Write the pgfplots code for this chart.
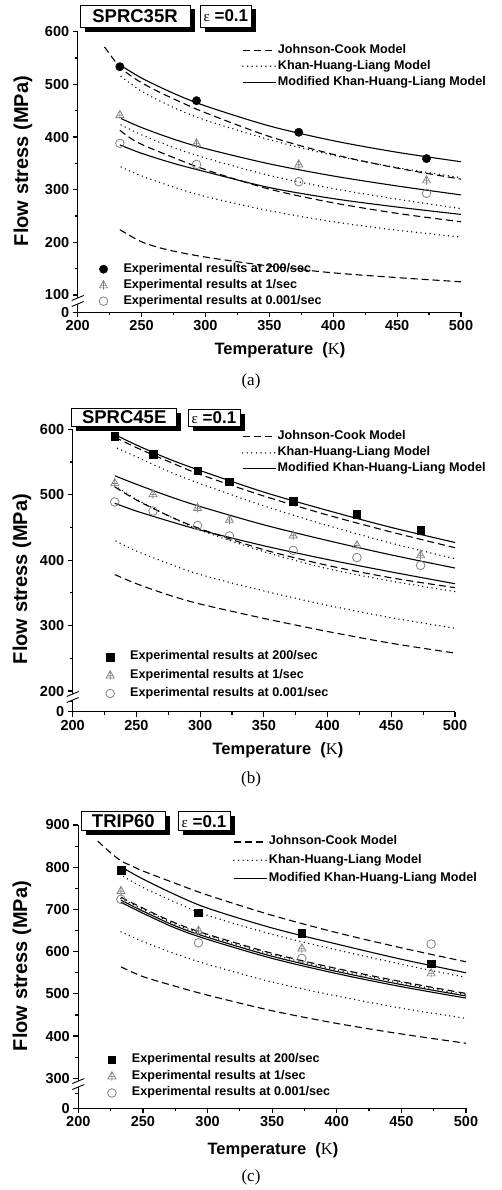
\documentclass[border=0pt]{standalone}
\usepackage{pgfplots}
\pgfplotsset{compat=1.18}
\usepackage{fontspec}
\setmainfont{Liberation Sans}
\newfontfamily\serif{Liberation Serif}

\pgfdeclareplotmark{tricross}{%
  \pgfpathmoveto{\pgfqpoint{0pt}{\pgfplotmarksize}}%
  \pgfpathlineto{\pgfqpoint{-0.9\pgfplotmarksize}{-0.6\pgfplotmarksize}}%
  \pgfpathlineto{\pgfqpoint{0.9\pgfplotmarksize}{-0.6\pgfplotmarksize}}%
  \pgfpathclose
  \pgfpathmoveto{\pgfqpoint{0pt}{1.1\pgfplotmarksize}}%
  \pgfpathlineto{\pgfqpoint{0pt}{-1.0\pgfplotmarksize}}%
  \pgfpathmoveto{\pgfqpoint{-0.7\pgfplotmarksize}{-0.1\pgfplotmarksize}}%
  \pgfpathlineto{\pgfqpoint{0.7\pgfplotmarksize}{-0.1\pgfplotmarksize}}%
  \pgfusepathqstroke
}

\pgfplotsset{
  jc/.style={black, line width=1.1pt, dash pattern=on 7pt off 4pt, smooth},
  khl/.style={black, line width=1.5pt, line cap=round, dash pattern=on 0pt off 4.6pt, smooth},
  mkhl/.style={black, line width=1.1pt, smooth},
  lineleg/.style={legend image code/.code={\path[draw=none,fill=none] (0pt,0pt) -- (35pt,0pt); \draw[##1] (0pt,0pt) -- (33pt,0pt);}},
  mk/.style={only marks, legend image code/.code={\path[draw=none,fill=none] (-8pt,0pt) -- (20pt,0pt); \draw[##1] plot coordinates {(0pt,0pt)};}},
  e200c/.style={mk, mark=*, mark size=4.2pt, black},
  e200s/.style={mk, mark=square*, mark size=3.8pt, black},
  e1/.style={mk, mark=tricross, mark size=4.5pt, gray, mark options={line width=0.7pt}},
  e0/.style={mk, mark=o, mark size=4.3pt, gray, mark options={line width=0.8pt}},
  base/.style={scale only axis, anchor=south west, xmin=200, xmax=500, clip=false,
    axis x line*=bottom, axis y line*=left,
    axis line style={line width=1.4pt},
    tick align=outside, major tick length=5pt, minor tick length=3pt,
    every tick/.style={black, line width=1.2pt},
    xtick={200,250,...,500}, minor x tick num=1,
    tick label style={font=\bfseries\fontsize{14.5}{16}\selectfont},
    /pgf/number format/assume math mode=true,
    legend cell align=left},
  legbase/.style={draw=none, fill=none, inner xsep=0pt, inner ysep=0pt, anchor=north west,
    nodes={inner sep=0pt, text height=9pt, text depth=3pt},
    font=\bfseries\fontsize{12.6}{14}\selectfont},
}

\newcommand{\tbox}[5]{%
  \fill[black] ({#1pt+4.5pt},{-#2pt-4.5pt}) rectangle ({#3pt+4.5pt},{-#4pt-4.5pt});
  \filldraw[fill=white,draw=black,line width=0.7pt] ({#1pt},{-#2pt}) rectangle ({#3pt},{-#4pt});
  \node[inner sep=0pt, anchor=center] at ({(#1pt+#3pt)/2},{-(#2pt+#4pt)/2}) {#5};}

\newcommand{\brk}[2]{%
  \fill[white] ({#1pt-6pt},{-#2pt-5.5pt}) -- ({#1pt+6pt},{-#2pt-0.5pt}) -- ({#1pt+6pt},{-#2pt+5.5pt}) -- ({#1pt-6pt},{-#2pt+0.5pt}) -- cycle;
  \draw[line width=0.9pt] ({#1pt-6pt},{-#2pt+0.5pt}) -- ({#1pt+6pt},{-#2pt+5.5pt});
  \draw[line width=0.9pt] ({#1pt-6pt},{-#2pt-5.5pt}) -- ({#1pt+6pt},{-#2pt-0.5pt});}

\newcommand{\bigb}{\bfseries\fontsize{18.5}{20}\selectfont}
\newcommand{\epsb}{{\serif\fontsize{15}{16}\selectfont ε}{\bfseries\fontsize{17}{18}\selectfont\ =0.1}}

\begin{document}
\begin{tikzpicture}
\path[use as bounding box] (0pt,0pt) rectangle (501pt,-1190pt);

% ================= (a) =================
\begin{axis}[base, at={(77.7pt,-312.3pt)}, width=383.3pt, height=280.6pt,
  ymin=67.1, ymax=600, ytick={67.1,100,200,300,400,500,600},
  yticklabels={0,100,200,300,400,500,600}, minor ytick={150,250,350,450,550},
  legend style={legbase, at={(0.4287,0.956)}, row sep=4pt}]
\addlegendimage{jc,lineleg}\addlegendentry{Johnson-Cook Model}
\addlegendimage{khl,lineleg}\addlegendentry{Khan-Huang-Liang Model}
\addlegendimage{mkhl,lineleg}\addlegendentry{Modified Khan-Huang-Liang Model}
\addplot[jc,forget plot] coordinates {(221,571) (227,551) (233,533) (240,519) (250,503) (265,484) (280,467) (300,446) (350,401) (400,367) (450,341) (500,320)};
\addplot[khl,forget plot] coordinates {(234,515) (250,487) (275,456) (300,432) (350,395) (400,365) (450,342) (500,323)};
\addplot[mkhl,forget plot] coordinates {(233,537) (250,512) (275,483) (300,459) (350,421) (400,393) (450,371) (500,353)};
\addplot[jc,forget plot] coordinates {(233,413) (240,400) (250,386) (275,361) (300,338) (350,301) (400,275) (450,255) (500,239)};
\addplot[khl,forget plot] coordinates {(234,423) (250,404) (275,380) (300,360) (350,327) (400,302) (450,282) (500,264)};
\addplot[mkhl,forget plot] coordinates {(234,435) (250,418) (275,396) (300,378) (350,349) (400,326) (450,307) (500,290)};
\addplot[jc,forget plot] coordinates {(233,224) (250,201) (270,186) (300,172) (350,155) (400,142) (450,133) (500,125)};
\addplot[khl,forget plot] coordinates {(234,343) (250,326) (275,305) (300,287) (350,260) (400,239) (450,223) (500,210)};
\addplot[mkhl,forget plot] coordinates {(233,385) (250,369) (275,350) (300,334) (350,304) (400,283) (450,267) (500,253)};
\end{axis}
\begin{axis}[base, hide axis, at={(77.7pt,-312.3pt)}, width=383.3pt, height=280.6pt,
  ymin=67.1, ymax=600, legend style={legbase, at={(0.046,0.1757)}, row sep=4pt}]
\addplot[e200c] coordinates {(233,533.5) (293,469) (373,409) (473,359)};
\addlegendentry{Experimental results at 200/sec}
\addplot[e1] coordinates {(233,442) (293,388) (373,348) (473,318)};
\addlegendentry{Experimental results at 1/sec}
\addplot[e0] coordinates {(233,388) (293,348) (373,315) (473,293)};
\addlegendentry{Experimental results at 0.001/sec}
\end{axis}

% ================= (b) =================
\begin{axis}[base, at={(72.7pt,-711.7pt)}, width=382.3pt, height=282.4pt,
  ymin=168.4, ymax=600, ytick={168.4,200,300,400,500,600},
  yticklabels={0,200,300,400,500,600}, minor ytick={184,250,350,450,550},
  legend style={legbase, at={(0.442,0.995)}, row sep=4pt}]
\addlegendimage{jc,lineleg}\addlegendentry{Johnson-Cook Model}
\addlegendimage{khl,lineleg}\addlegendentry{Khan-Huang-Liang Model}
\addlegendimage{mkhl,lineleg}\addlegendentry{Modified Khan-Huang-Liang Model}
\addplot[jc,forget plot] coordinates {(233,588) (250,572) (275,551) (300,531) (350,498) (400,469) (450,443) (500,419)};
\addplot[khl,forget plot] coordinates {(235,571) (250,558) (275,536) (300,517) (350,483) (400,453) (450,426) (500,402)};
\addplot[mkhl,forget plot] coordinates {(232,593) (250,576) (275,555) (300,537) (350,504) (400,476) (450,450) (500,427)};
\addplot[jc,forget plot] coordinates {(233,512) (250,492) (275,468) (300,448) (350,416) (400,392) (450,373) (500,358)};
\addplot[khl,forget plot] coordinates {(233,514) (250,493) (275,468) (300,446) (350,413) (400,387) (450,368) (500,352)};
\addplot[mkhl,forget plot] coordinates {(233,529) (250,516) (275,498) (300,482) (350,454) (400,430) (450,408) (500,388)};
\addplot[jc,forget plot] coordinates {(233,378) (250,364) (275,347) (300,333) (350,311) (400,291) (450,273) (500,258)};
\addplot[khl,forget plot] coordinates {(234,429) (250,414) (275,395) (300,378) (350,353) (400,331) (450,312) (500,296)};
\addplot[mkhl,forget plot] coordinates {(233,487) (250,475) (275,460) (300,446) (350,422) (400,401) (450,382) (500,364)};
\end{axis}
\begin{axis}[base, hide axis, at={(72.7pt,-711.7pt)}, width=382.3pt, height=282.4pt,
  ymin=168.4, ymax=600, legend style={legbase, at={(0.0766,0.216)}, row sep=6.3pt}]
\addplot[e200s] coordinates {(233,589) (263,562) (298,537) (323,520) (373,490) (423,470) (473,446)};
\addlegendentry{Experimental results at 200/sec}
\addplot[e1] coordinates {(233,518) (263,501) (298,480) (323,462) (373,438) (423,423) (473,408)};
\addlegendentry{Experimental results at 1/sec}
\addplot[e0] coordinates {(233,489) (263,475) (298,453) (323,437) (373,415) (423,404) (473,392)};
\addlegendentry{Experimental results at 0.001/sec}
\end{axis}

% ================= (c) =================
\begin{axis}[base, at={(78.3pt,-1108.3pt)}, width=387.7pt, height=283.3pt,
  ymin=228.9, ymax=900, ytick={228.9,300,400,500,600,700,800,900},
  yticklabels={0,300,400,500,600,700,800,900}, minor ytick={264,350,450,550,650,750,850},
  legend style={legbase, at={(0.399,0.962)}, row sep=6.3pt}]
\addlegendimage{jc,lineleg}\addlegendentry{Johnson-Cook Model}
\addlegendimage{khl,lineleg}\addlegendentry{Khan-Huang-Liang Model}
\addlegendimage{mkhl,lineleg}\addlegendentry{Modified Khan-Huang-Liang Model}
\addplot[jc,forget plot] coordinates {(215,862) (224,837) (233,815) (240,805) (250,791) (275,762) (300,734) (350,686) (400,645) (450,609) (500,576)};
\addplot[khl,forget plot] coordinates {(235,778) (250,752) (275,717) (300,686) (350,641) (400,604) (450,570) (500,539)};
\addplot[mkhl,forget plot] coordinates {(233,801) (250,772) (275,735) (300,703) (350,656) (400,618) (450,582) (500,550)};
\addplot[jc,forget plot] coordinates {(233,729) (250,703) (275,668) (300,641) (350,596) (400,560) (450,529) (500,501)};
\addplot[khl,forget plot] coordinates {(233,726) (250,700) (275,665) (300,638) (350,593) (400,557) (450,526) (500,498)};
\addplot[mkhl,forget plot] coordinates {(233,722) (250,696) (275,661) (300,634) (350,589) (400,553) (450,522) (500,495)};
\addplot[mkhl,forget plot] coordinates {(233,717) (250,691) (275,656) (300,629) (350,584) (400,548) (450,517) (500,490)};
\addplot[jc,forget plot] coordinates {(233,564) (250,541) (275,518) (300,497) (350,460) (400,430) (450,405) (500,383)};
\addplot[khl,forget plot] coordinates {(233,647) (250,624) (275,595) (300,570) (350,528) (400,495) (450,466) (500,442)};
\end{axis}
\begin{axis}[base, hide axis, at={(78.3pt,-1108.3pt)}, width=387.7pt, height=283.3pt,
  ymin=228.9, ymax=900, legend style={legbase, at={(0.0655,0.194)}, row sep=4.7pt}]
\addplot[e200s] coordinates {(233,793) (293,692) (373,643) (473,571)};
\addlegendentry{Experimental results at 200/sec}
\addplot[e1] coordinates {(233,744) (293,650) (373,608) (473,549)};
\addlegendentry{Experimental results at 1/sec}
\addplot[e0] coordinates {(233,724) (293,621) (373,584) (473,618)};
\addlegendentry{Experimental results at 0.001/sec}
\end{axis}

% axis breaks
\brk{77.7}{301}
\brk{72.7}{697}
\brk{78.3}{1084}

% title boxes
\tbox{80}{5}{190}{27.3}{\bigb SPRC35R}
\tbox{200}{5}{251.7}{27.3}{\epsb}
\tbox{71.7}{408.3}{176.7}{426}{\bigb SPRC45E}
\tbox{188}{409}{240}{426}{\epsb}
\tbox{81.7}{811.7}{165}{830.7}{\bigb TRIP60}
\tbox{178}{811.7}{230}{830.7}{\epsb}

% axis labels
\node[rotate=90, font=\bfseries\fontsize{20}{24}\selectfont] at (23pt,-161pt) {Flow stress (MPa)};
\node[rotate=90, font=\bfseries\fontsize{20}{24}\selectfont] at (22pt,-579pt) {Flow stress (MPa)};
\node[rotate=90, font=\bfseries\fontsize{20}{24}\selectfont] at (22pt,-966pt) {Flow stress (MPa)};
\node[font=\bfseries\fontsize{16.5}{20}\selectfont] at (280pt,-350pt) {Temperature\ \ ({\serif\mdseries K})};
\node[font=\bfseries\fontsize{16.5}{20}\selectfont] at (278pt,-750pt) {Temperature\ \ ({\serif\mdseries K})};
\node[font=\bfseries\fontsize{16.5}{20}\selectfont] at (273pt,-1150pt) {Temperature\ \ ({\serif\mdseries K})};
% captions
\node[font=\serif\fontsize{17}{20}\selectfont] at (251pt,-381pt) {(a)};
\node[font=\serif\fontsize{17}{20}\selectfont] at (251pt,-779pt) {(b)};
\node[font=\serif\fontsize{17}{20}\selectfont] at (251pt,-1177pt) {(c)};
\end{tikzpicture}
\end{document}
